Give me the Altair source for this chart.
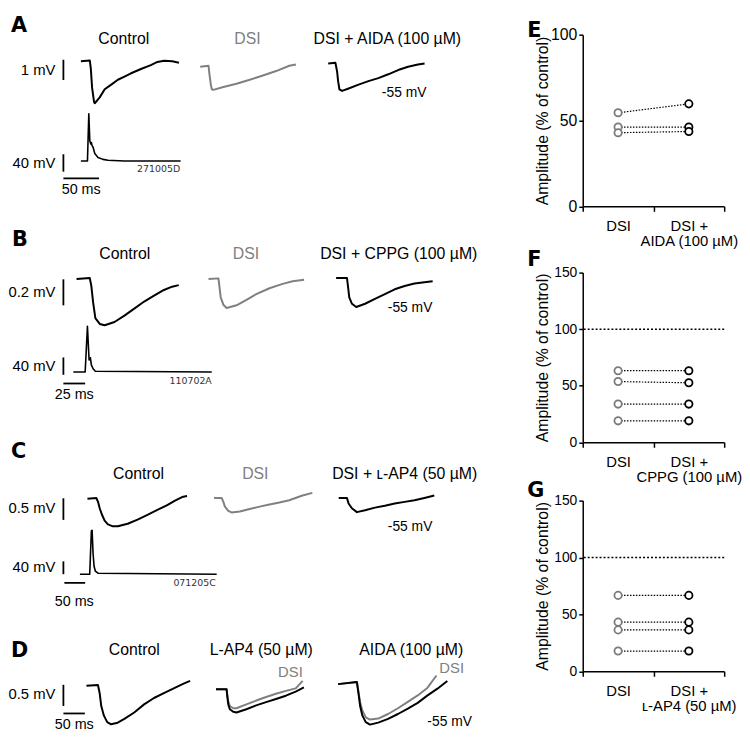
import altair as alt
import pandas as pd

FONT = "Liberation Sans"
BOLD_FONT = "DejaVu Sans"
BLACK = "#000000"
GRAY = "#808080"

# ------------------------------------------------------------------ data
# Panel A (EPSP: ms, mV ; AP: ms, mV)
A_CTRL_T = [0, 12.5, 13.9, 15.7, 18.5, 19.5, 26.4, 33.4, 42.6, 51.9, 61.2, 70.4, 84.3, 98.2, 107.5, 116.8, 128.4, 137.7]
A_CTRL_V = [-0.03, 0.01, -0.38, -1.33, -2.05, -2.10, -1.81, -1.41, -1.18, -0.94, -0.78, -0.62, -0.41, -0.22, -0.06, 0.0, -0.03, -0.10]
A_DSI_T = [0, 11.7, 13.1, 14.9, 16.3, 18.6, 32.5, 51.0, 69.5, 88.0, 106.6, 125.1, 134.4]
A_DSI_V = [-0.30, -0.25, -0.70, -1.18, -1.41, -1.44, -1.30, -1.14, -0.94, -0.73, -0.51, -0.25, -0.19]
A_AIDA_T = [0, 10.1, 12.5, 13.9, 15.7, 19.5, 28.7, 42.6, 56.5, 70.4, 84.3, 98.2, 112.1, 126.0, 135.3]
A_AIDA_V = [-0.14, -0.10, -0.54, -1.01, -1.41, -1.49, -1.37, -1.18, -1.01, -0.86, -0.67, -0.46, -0.30, -0.19, -0.14]
A_AP_T = [0, 9.2, 11.1, 12.5, 13.9, 14.7, 15.7, 17.1, 19.5, 24.0, 31.0, 38.0, 61.0, 140.0]
A_AP_V = [0, 0, 109, 46.6, 39.3, 42.8, 35.5, 31.7, 17.1, 8.2, 3.8, 1.6, 0, 0]

# Panel B
B_CTRL_T = [0, 15.2, 17.0, 19.0, 21.6, 26.6, 32.3, 43.6, 55.0, 66.3, 77.7, 89.0, 100.4, 109.8, 117.4]
B_CTRL_V = [-0.005, 0.002, -0.059, -0.183, -0.306, -0.350, -0.360, -0.335, -0.286, -0.232, -0.178, -0.133, -0.089, -0.064, -0.052]
B_DSI_T = [0, 11.4, 12.5, 14.0, 17.0, 20.8, 32.2, 43.6, 54.9, 70.0, 85.2, 96.6, 109.8]
B_DSI_V = [-0.005, 0.0, -0.059, -0.146, -0.202, -0.227, -0.207, -0.165, -0.121, -0.076, -0.042, -0.022, -0.010]
B_CPPG_T = [0, 12.5, 13.6, 15.1, 18.2, 23.1, 33.3, 44.6, 56.0, 67.3, 78.7, 90.0, 101.4, 110.9]
B_CPPG_V = [0.002, 0.002, -0.059, -0.146, -0.195, -0.220, -0.195, -0.158, -0.121, -0.084, -0.059, -0.039, -0.030, -0.022]
B_AP_T = [-3.7, 9.9, 12.5, 14.4, 15.9, 17.0, 19.0, 21.6, 155.3]
B_AP_V = [0, 0, 105, 27.3, 32.6, 16.2, 7.3, 1.6, 0]

# Panel C
C_CTRL_T = [0, 21.4, 25.5, 29.5, 35.0, 41.4, 49.3, 61.2, 73.1, 96.9, 120.7, 144.5, 168.3, 192.1, 211.9, 227.8, 239.7]
C_CTRL_V = [-0.022, -0.007, -0.096, -0.245, -0.395, -0.529, -0.618, -0.662, -0.662, -0.602, -0.506, -0.395, -0.283, -0.172, -0.060, 0.015, 0.038]
C_DSI_T = [0, 18.3, 22.4, 26.2, 34.3, 42.1, 61.9, 85.7, 109.5, 133.3, 157.1, 180.9, 212.8, 236.6]
C_DSI_V = [-0.007, -0.007, -0.096, -0.207, -0.305, -0.341, -0.319, -0.261, -0.207, -0.156, -0.112, -0.060, 0.051, 0.111]
C_LAP4_T = [0, 20.0, 23.8, 31.7, 43.8, 63.5, 87.3, 111.1, 134.9, 158.7, 182.5, 206.3, 230.1]
C_LAP4_V = [-0.007, -0.007, -0.134, -0.245, -0.334, -0.290, -0.230, -0.185, -0.134, -0.096, -0.060, -0.007, 0.051]
C_AP_T = [-18.1, 5.5, 9.5, 11.2, 13.6, 16.0, 19.0, 25.5, 311.1]
C_AP_V = [0, 0, 135, 136.8, 64.8, 24.9, 9.9, 3.0, 0]

# Panel D
D_CTRL_T = [0, 26.9, 30.8, 34.5, 40.7, 48.3, 57.5, 72.9, 88.3, 111.3, 134.3, 157.3, 180.3, 203.3, 226.3, 241.5]
D_CTRL_V = [0, 0.016, -0.175, -0.477, -0.704, -0.856, -0.908, -0.870, -0.779, -0.629, -0.438, -0.288, -0.175, -0.061, 0.052, 0.114]
D_LAP4_T = [0, 24.6, 26.2, 28.5, 32.2, 40.0, 47.6, 70.6, 93.6, 116.6, 139.6, 162.6, 185.6, 204.7]
D_LAP4_V = [-0.084, -0.084, -0.250, -0.438, -0.552, -0.613, -0.629, -0.552, -0.461, -0.386, -0.311, -0.234, -0.136, -0.038]
D_LAP4_DSI_T = [0, 24.6, 26.2, 28.5, 32.2, 40.0, 47.6, 70.6, 93.6, 116.6, 139.6, 162.6, 185.6, 201.8]
D_LAP4_DSI_V = [-0.084, -0.084, -0.211, -0.363, -0.477, -0.529, -0.529, -0.438, -0.348, -0.265, -0.188, -0.120, -0.061, 0.114]
D_AIDA_T = [0, 43.7, 47.4, 51.3, 56.6, 64.4, 74.3, 93.4, 116.4, 139.4, 162.4, 185.4, 208.4, 231.4, 254.4]
D_AIDA_V = [0.039, 0.091, -0.175, -0.477, -0.704, -0.856, -0.915, -0.869, -0.779, -0.665, -0.538, -0.402, -0.227, -0.068, 0.114]
D_AIDA_DSI_T = [0, 43.7, 47.4, 51.3, 56.6, 64.4, 74.3, 93.4, 116.4, 139.4, 162.4, 185.4, 208.4, 229.1]
D_AIDA_DSI_V = [0.039, 0.091, -0.136, -0.386, -0.590, -0.742, -0.795, -0.772, -0.665, -0.529, -0.379, -0.227, -0.045, 0.243]

# scale bar lengths (data units)
A_BAR_MV, A_BAR_AP_MV, A_BAR_MS = 1, 40, 50
B_BAR_MV, B_BAR_AP_MV, B_BAR_MS = 0.2, 40, 25
C_BAR_MV, C_BAR_AP_MV, C_BAR_MS = 0.5, 40, 50
D_BAR_MV, D_BAR_MS = 0.5, 50

# summary panels (% of control)
E_DSI = [54.5, 46.2, 42.9]
E_AIDA = [59.7, 46.2, 43.6]
F_DSI = [63.3, 53.7, 33.8, 19.0]
F_CPPG = [63.3, 52.6, 33.8, 19.0]
G_DSI = [66.7, 43.2, 36.4, 17.8]
G_LAP4 = [66.7, 43.2, 36.4, 17.8]

# ------------------------------------------------------------------ layout
SY = 0.975          # slight vertical squeeze so the page fits the 750 px window


def Y(py):
    return 7 + (py - 7) * SY


X0, W = 56, 404
BANDS_REF = {1: (25, 186), 2: (271, 176), 3: (507, 177)}
BANDS = {k: (Y(t), h * SY) for k, (t, h) in BANDS_REF.items()}


class Panel:
    def __init__(self, x_start, kt, y_base_ref, kv, band):
        top, h = BANDS[band]
        self.x_start, self.kt = x_start, kt
        self.y_base = Y(y_base_ref)
        self.kv = kv / SY
        self.xs = alt.Scale(domain=[(X0 - x_start) * kt, (X0 + W - x_start) * kt], nice=False, zero=False)
        self.ys = alt.Scale(domain=[-(top + h - self.y_base) * self.kv, (self.y_base - top) * self.kv],
                            nice=False, zero=False)

    def t(self, px):
        return (px - self.x_start) * self.kt

    def v(self, py_ref):
        return -(Y(py_ref) - self.y_base) * self.kv


def trace(p, t, v, color=BLACK, width=2.0):
    df = pd.DataFrame({"t": t, "v": v, "k": list(range(len(t)))})
    return alt.Chart(df).mark_line(color=color, strokeWidth=width, strokeJoin="round").encode(
        x=alt.X("t:Q", scale=p.xs, axis=None),
        y=alt.Y("v:Q", scale=p.ys, axis=None),
        order=alt.Order("k:Q"),
    )


def vbar(p, px, py_bottom, length):
    v0 = p.v(py_bottom)
    df = pd.DataFrame({"t": [p.t(px)], "v": [v0], "v2": [v0 + length]})
    return alt.Chart(df).mark_rule(color=BLACK, strokeWidth=1.8).encode(
        x=alt.X("t:Q", scale=p.xs, axis=None),
        y=alt.Y("v:Q", scale=p.ys, axis=None),
        y2="v2:Q",
    )


def hbar(p, px_left, py, length):
    t0 = p.t(px_left)
    df = pd.DataFrame({"t": [t0], "t2": [t0 + length], "v": [p.v(py)]})
    return alt.Chart(df).mark_rule(color=BLACK, strokeWidth=1.8).encode(
        x=alt.X("t:Q", scale=p.xs, axis=None),
        x2="t2:Q",
        y=alt.Y("v:Q", scale=p.ys, axis=None),
    )


def texts(band, rows, **style):
    top, _ = BANDS[band]
    df = pd.DataFrame({
        "label": [r[0] for r in rows],
        "px": [r[1] - X0 for r in rows],
        "py": [Y(r[2]) - top for r in rows],
        "col": [r[3] if len(r) > 3 else BLACK for r in rows],
    })
    return alt.Chart(df).mark_text(**style).encode(
        x=alt.X("px:Q", scale=None, axis=None),
        y=alt.Y("py:Q", scale=None, axis=None),
        text="label:N",
        color=alt.Color("col:N", scale=None),
    )


TITLE = dict(align="center", baseline="middle", font=FONT, fontSize=16)
LETTER = dict(align="left", baseline="alphabetic", font=BOLD_FONT, fontSize=21, fontWeight="bold")
MVLAB = dict(align="right", baseline="middle", font=FONT, fontSize=15)
MSLAB = dict(align="center", baseline="middle", font=FONT, fontSize=14.5)
RLAB = dict(align="right", baseline="middle", font=FONT, fontSize=14)
IDLAB = dict(align="right", baseline="middle", font=BOLD_FONT, fontSize=9.5)
DSILAB = dict(align="right", baseline="middle", font=FONT, fontSize=15)


def band_chart(band, layers):
    _, h = BANDS[band]
    return alt.layer(*layers).resolve_scale(x="independent", y="independent").properties(width=W, height=h)


# ---- band 1: panel A
A_KT, A_KV, A_APKV = 50 / 36, 1 / 21, 40 / 18
pA_c = Panel(77.7, A_KT, 52, A_KV, 1)
pA_d = Panel(198.3, A_KT, 52, A_KV, 1)
pA_a = Panel(327.7, A_KT, 52, A_KV, 1)
pA_ap = Panel(77.7, A_KT, 156, A_APKV, 1)
L1 = band_chart(1, [
    trace(pA_c, A_CTRL_T, A_CTRL_V),
    trace(pA_d, A_DSI_T, A_DSI_V, GRAY),
    trace(pA_a, A_AIDA_T, A_AIDA_V),
    trace(pA_ap, A_AP_T, A_AP_V, width=1.6),
    vbar(pA_c, 60, 72, A_BAR_MV),
    vbar(pA_ap, 60, 167, A_BAR_AP_MV),
    hbar(pA_ap, 60, 174, A_BAR_MS),
    texts(1, [("Control", 121, 30), ("DSI", 246, 30, GRAY), ("DSI + AIDA (100 µM)", 387.5, 30)], **TITLE),
    texts(1, [("A", 7, 22)], **LETTER),
    texts(1, [("1 mV", 52, 62), ("40 mV", 52, 158)], **MVLAB),
    texts(1, [("50 ms", 78, 186)], **MSLAB),
    texts(1, [("-55 mV", 427, 85)], **RLAB),
    texts(1, [("271005D", 178, 164, "#333333")], **IDLAB),
])

# ---- band 2: panel B
B_KT, B_KV, B_APKV = 25 / 22, 0.2 / 27, 40 / 18
pB_c = Panel(73.3, B_KT, 277, B_KV, 2)
pB_d = Panel(206.7, B_KT, 277, B_KV, 2)
pB_p = Panel(335.7, B_KT, 277, B_KV, 2)
pB_ap = Panel(73.3, B_KT, 374, B_APKV, 2)
L2 = band_chart(2, [
    trace(pB_c, B_CTRL_T, B_CTRL_V),
    trace(pB_d, B_DSI_T, B_DSI_V, GRAY),
    trace(pB_p, B_CPPG_T, B_CPPG_V),
    trace(pB_ap, B_AP_T, B_AP_V, width=1.6),
    vbar(pB_c, 60, 305, B_BAR_MV),
    vbar(pB_ap, 60, 377, B_BAR_AP_MV),
    hbar(pB_ap, 60, 386, B_BAR_MS),
    texts(2, [("Control", 122, 252), ("DSI", 244.5, 252, GRAY), ("DSI + CPPG (100 µM)", 399, 252)], **TITLE),
    texts(2, [("B", 8, 243)], **LETTER),
    texts(2, [("0.2 mV", 52, 291), ("40 mV", 52, 368)], **MVLAB),
    texts(2, [("25 ms", 71, 398)], **MSLAB),
    texts(2, [("-55 mV", 433, 308)], **RLAB),
    texts(2, [("110702A", 210, 383, "#333333")], **IDLAB),
])

# ---- band 3: panels C and D
C_KT, C_KV, C_APKV = 50 / 21, 0.5 / 22.4, 40 / 13.3
pC_c = Panel(84.3, C_KT, 504, C_KV, 3)
pC_d = Panel(212.3, C_KT, 504, C_KV, 3)
pC_l = Panel(338.3, C_KT, 504, C_KV, 3)
pC_ap = Panel(84.3, C_KT, 583.3, C_APKV, 3)
D_KT, D_KV = 50 / 21.7, 0.5 / 22
pD_c = Panel(83.3, D_KT, 699, D_KV, 3)
pD_l = Panel(214.3, D_KT, 699, D_KV, 3)
pD_a = Panel(337.7, D_KT, 699, D_KV, 3)
L3 = band_chart(3, [
    trace(pC_c, C_CTRL_T, C_CTRL_V),
    trace(pC_d, C_DSI_T, C_DSI_V, GRAY),
    trace(pC_l, C_LAP4_T, C_LAP4_V),
    trace(pC_ap, C_AP_T, C_AP_V, width=1.6),
    vbar(pC_c, 60, 527, C_BAR_MV),
    vbar(pC_ap, 60, 583.3, C_BAR_AP_MV),
    hbar(pC_ap, 61, 592.3, C_BAR_MS),
    trace(pD_c, D_CTRL_T, D_CTRL_V),
    trace(pD_l, D_LAP4_DSI_T, D_LAP4_DSI_V, GRAY),
    trace(pD_l, D_LAP4_T, D_LAP4_V),
    trace(pD_a, D_AIDA_DSI_T, D_AIDA_DSI_V, GRAY),
    trace(pD_a, D_AIDA_T, D_AIDA_V),
    vbar(pD_c, 60, 720, D_BAR_MV),
    hbar(pD_c, 60, 727.7, D_BAR_MS),
    texts(3, [("Control", 136, 479), ("DSI", 254, 479, GRAY), ("DSI + ʟ-AP4 (50 µM)", 405, 479),
              ("Control", 131.7, 662), ("L-AP4 (50 µM)", 260, 662), ("AIDA (100 µM)", 411.7, 662)], **TITLE),
    texts(3, [("C", 7, 463), ("D", 7, 669)], **LETTER),
    texts(3, [("0.5 mV", 52, 515), ("40 mV", 52, 576), ("0.5 mV", 52, 708)], **MVLAB),
    texts(3, [("50 ms", 71, 612), ("50 ms", 71, 740)], **MSLAB),
    texts(3, [("-55 mV", 433, 534), ("-55 mV", 473, 737)], **RLAB),
    texts(3, [("071205C", 214, 592, "#333333")], **IDLAB),
    texts(3, [("DSI", 302, 685, GRAY), ("DSI", 465, 681, GRAY)], **DSILAB),
])


# ---- summary panels
def scatter(dsi, drug, drug_label, ymax, yticks, letter, letter_base_ref, top_ref, height_ref, ref_line,
            tick_font, title_pad):
    cats = ["DSI", drug_label]
    rows = []
    for i, (a, b) in enumerate(zip(dsi, drug)):
        rows.append({"cond": "DSI", "val": a, "pair": i, "grp": "DSI"})
        rows.append({"cond": drug_label, "val": b, "pair": i, "grp": "drug"})
    df = pd.DataFrame(rows)
    yscale = alt.Scale(domain=[0, ymax], nice=False, zero=True)
    xenc = alt.X(
        "cond:N", sort=cats,
        scale=alt.Scale(type="band", domain=cats, paddingInner=0, paddingOuter=0),
        axis=alt.Axis(title=None, labelAngle=0, tickBand="extent", labelExpr="split(datum.label, '|')",
                      labelFont=FONT, labelFontSize=15, labelColor=BLACK, labelPadding=7, labelLineHeight=16,
                      labelOverlap=False, tickSize=5, tickWidth=1.5, tickColor=BLACK,
                      domainColor=BLACK, domainWidth=1.5),
    )
    yenc = alt.Y(
        "val:Q", scale=yscale,
        axis=alt.Axis(values=yticks, title="Amplitude (% of control)", grid=False,
                      labelFont=FONT, labelFontSize=tick_font, labelColor=BLACK, labelPadding=2,
                      tickSize=4, tickWidth=1.5, tickColor=BLACK, domainColor=BLACK, domainWidth=1.5,
                      titleFont=FONT, titleFontSize=16, titleFontWeight="normal", titleColor=BLACK,
                      titlePadding=title_pad),
    )
    base = alt.Chart(df).encode(x=xenc, y=yenc)
    layers = []
    if ref_line:
        layers.append(
            alt.Chart(pd.DataFrame({"val": [100]})).mark_rule(color=BLACK, strokeWidth=1.5, strokeDash=[2, 2])
            .encode(y=alt.Y("val:Q", scale=yscale))
        )
    layers.append(base.mark_line(color=BLACK, strokeWidth=1.2, strokeDash=[1.5, 1.5]).encode(detail="pair:N"))
    layers.append(
        base.mark_point(shape="circle", filled=False, fill="white", fillOpacity=1, size=55, strokeWidth=1.8,
                        opacity=1)
        .encode(color=alt.Color("grp:N", scale=alt.Scale(domain=["DSI", "drug"], range=["#7a7a7a", BLACK]),
                                legend=None))
    )
    layers.append(
        alt.Chart(pd.DataFrame({"k": [0]})).mark_text(text=letter, align="left", baseline="alphabetic",
                                                      font=BOLD_FONT, fontSize=21, fontWeight="bold", color=BLACK)
        .encode(x=alt.value(-56), y=alt.value(Y(letter_base_ref) - Y(top_ref)))
    )
    return alt.layer(*layers).properties(width=143, height=height_ref * SY)


E = scatter(E_DSI, E_AIDA, "DSI +|AIDA (100 µM)", 100, [0, 50, 100], "E", 27, 25, 178, False, 16, 0)
F = scatter(F_DSI, F_CPPG, "DSI +|CPPG (100 µM)", 150, [0, 50, 100, 150], "F", 264, 271, 176, True, 14, 3)
G = scatter(G_DSI, G_LAP4, "DSI +|ʟ-AP4 (50 µM)", 150, [0, 50, 100, 150], "G", 503, 507, 177, True, 14, 3)

chart = (
    alt.concat(L1, E, L2, F, L3, G, columns=2, spacing={"row": 60 * SY, "column": 125},
               bounds="flush", align="each")
    .properties(padding={"top": 3, "left": 0, "right": 0, "bottom": 0})
    .configure_view(stroke=None)
)

chart.save("out.html", embed_options={"renderer": "svg", "actions": False})
